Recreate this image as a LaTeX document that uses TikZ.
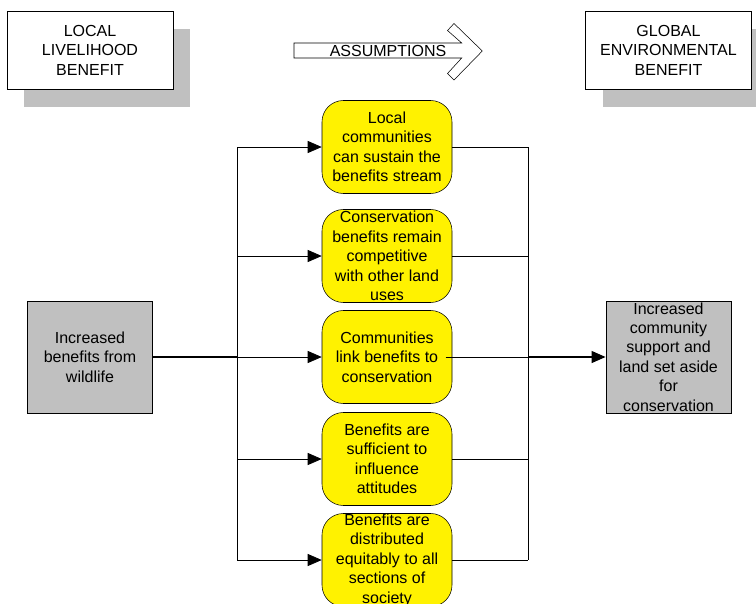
\documentclass[tikz,border=0pt]{standalone}
\usepackage{fontspec}
\setmainfont{Liberation Sans}
\usetikzlibrary{arrows.meta,shadows}
\definecolor{shadegray}{HTML}{C0C0C0}
\tikzset{
    heading box/.style={
        draw,thin,fill=white,
        minimum width=124.5pt,minimum height=58.5pt,
        align=center,
        drop shadow={shadow xshift=12.75pt,shadow yshift=-13.5pt,fill=shadegray,opacity=1}
    },
    gray box/.style={draw,thin,fill=shadegray,minimum width=94pt,minimum height=84pt},
    assumption/.style={
        draw,thin,fill=yellow,rounded corners=16pt,
        minimum width=97.5pt,minimum height=69.75pt
    },
    box text/.style={align=center,inner sep=0pt},
    link/.style={line width=.6pt},
    arrow link/.style={link,-{Triangle[length=10.5pt,width=9pt]}}
}

\begin{document}
\begin{tikzpicture}[x=.75pt,y=-.75pt,font=\fontsize{12}{14.6}\selectfont]
    \useasboundingbox (0,0) rectangle (756,603);
    \node[heading box] (local) at (90,50) {LOCAL\\LIVELIHOOD\\BENEFIT};
    \node[heading box] (global) at (668.5,50) {GLOBAL\\ENVIRONMENTAL\\BENEFIT};
    \draw[thin,fill=white] (294,43) -- (461.7,43) -- (447.5,30.5) -- (454,23.5) -- (482.3,51)
        -- (454,80) -- (447.5,73.5) -- (461.7,58) -- (294,58) -- cycle;
    \node[inner sep=0pt] (assumptions) at (388,51) {ASSUMPTIONS};
    \foreach \i/\y/\txt in {
        1/147/{Local\\communities\\can sustain the\\benefits stream},
        2/256/{Conservation\\benefits remain\\competitive\\with other land\\uses},
        3/357/{Communities\\link benefits to\\conservation},
        4/459/{Benefits are\\sufficient to\\influence\\attitudes},
        5/560/{Benefits are\\distributed\\equitably to all\\sections of\\society}}
        \node[assumption,label={[box text]center:{\txt}}] (b\i) at (387,\y) {};
    \node[gray box,label={[box text]center:{Increased\\benefits from\\wildlife}}] (src) at (90,357) {};
    \node[gray box,label={[box text]center:{Increased\\community\\support and\\land set aside\\for\\conservation}}] (tgt) at (668.5,357) {};
    \coordinate (split) at (237,357);
    \coordinate (join) at (528,357);
    \draw[link] (split |- b1.west) -- (split |- b5.west);
    \draw[link] (join |- b1.east) -- (join |- b5.east);
    \foreach \i in {1,...,5}{
        \draw[arrow link] (split |- b\i.west) -- (b\i.west);
        \draw[link] (b\i.east) -- (join |- b\i.east);
    }
    \draw[link] ([xshift=-5pt]b3.east) -- (b3.east);
    \draw[link,line width=.9pt] (src.east) -- (split);
    \draw[arrow link,line width=.9pt] (join) -- (tgt.west);
\end{tikzpicture}
\end{document}
